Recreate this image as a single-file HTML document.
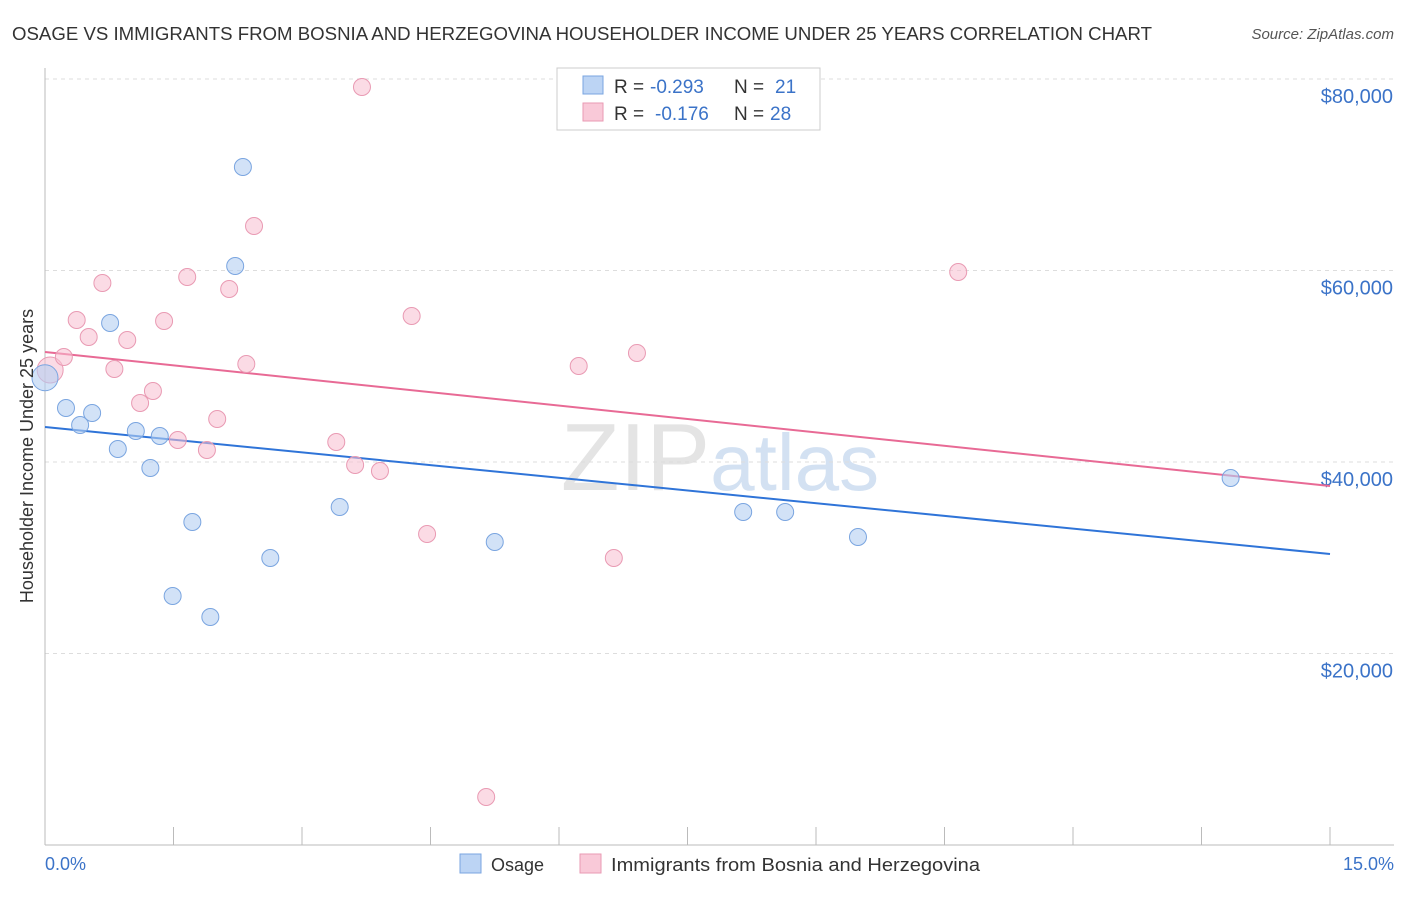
<!DOCTYPE html>
<html><head><meta charset="utf-8"><style>
body{margin:0;background:#fff;font-family:"Liberation Sans",sans-serif}
svg text{font-family:"Liberation Sans",sans-serif}
</style></head><body>
<svg id="chart" width="1406" height="892">
<text x="12" y="40" font-size="18" fill="#333" textLength="1140" lengthAdjust="spacingAndGlyphs">OSAGE VS IMMIGRANTS FROM BOSNIA AND HERZEGOVINA HOUSEHOLDER INCOME UNDER 25 YEARS CORRELATION CHART</text>
<text x="1394" y="39" font-size="15" fill="#555" text-anchor="end" font-style="italic">Source: ZipAtlas.com</text>
<text x="720" y="490" font-size="96" text-anchor="middle" fill="#e4e4e4" font-family="Liberation Serif">ZIP<tspan fill="#d3e1f2" font-family="Liberation Sans" font-size="80">atlas</tspan></text>
<g id="grid"></g><g id="axes"></g><g id="lines"></g><g id="pts"></g>
<text transform="translate(33,456) rotate(-90)" font-size="18" fill="#333" text-anchor="middle">Householder Income Under 25 years</text>
<text x="45" y="870" font-size="18" fill="#3b73c8">0.0%</text>
<text x="1394" y="870" font-size="18" fill="#3b73c8" text-anchor="end">15.0%</text>
<g>
<rect x="557" y="68" width="263" height="62" fill="#fff" stroke="#ccc"/>
<rect x="583" y="76" width="20" height="18" fill="#bcd4f4" stroke="#7aa5e0"/>
<rect x="583" y="103" width="20" height="18" fill="#f9c9d8" stroke="#e99ab3"/>
<text x="614" y="93" font-size="19" fill="#333">R = <tspan x="650" fill="#3b73c8">-0.293</tspan><tspan x="734">N =</tspan><tspan x="775" fill="#3b73c8">21</tspan></text>
<text x="614" y="120" font-size="19" fill="#333">R = <tspan x="655" fill="#3b73c8">-0.176</tspan><tspan x="734">N =</tspan><tspan x="770" fill="#3b73c8">28</tspan></text>
</g>
<g>
<rect x="460" y="854" width="21" height="19" fill="#bcd4f4" stroke="#7aa5e0"/>
<text x="491" y="871" font-size="18" fill="#333">Osage</text>
<rect x="580" y="854" width="21" height="19" fill="#f9c9d8" stroke="#e99ab3"/>
<text x="611" y="871" font-size="18" fill="#333" textLength="369" lengthAdjust="spacingAndGlyphs">Immigrants from Bosnia and Herzegovina</text>
</g>
</svg>
<script>
const yTicks=[20000,40000,60000,80000];
const yTickLabels=["$20,000","$40,000","$60,000","$80,000"];
const blueX=[0.0,0.245,0.41,0.55,0.76,0.85,1.06,1.23,1.34,1.72,1.49,1.93,2.22,2.31,2.63,3.44,5.25,8.15,8.64,9.49,13.84];
const blueY=[48800,45640,43865,45118,54518,41358,43238,39374,42716,33734,26006,23812,60471,70810,29974,35301,31645,34779,34779,32168,38329];
const pinkX=[0.06,0.22,0.37,0.51,0.67,0.81,0.96,1.11,1.26,1.39,1.55,1.66,1.89,2.01,2.15,2.35,2.44,3.40,3.62,3.70,3.91,4.28,4.46,5.15,6.23,6.64,6.91,10.66];
const pinkY=[49609,50967,54831,53056,58695,49713,52742,46162,47416,54727,42298,59322,41254,44491,58069,50236,64648,42089,39687,79166,39061,55249,32481,5013,50027,29974,51384,59844];
const blueTrend=[43656,30392];
const pinkTrend=[51489,37494];
const NS="http://www.w3.org/2000/svg";
const X=v=>45+v/15*1285, Y=v=>845-v/20000*191.5;
function mk(tag,attrs,parent){const e=document.createElementNS(NS,tag);for(const k in attrs)e.setAttribute(k,attrs[k]);document.getElementById(parent).appendChild(e);return e;}
yTicks.forEach((t,i)=>{
 const l=mk('line',{x1:45,x2:1394,y1:Y(t),y2:Y(t),stroke:'#ddd','stroke-dasharray':'4,4'},'grid');
 
 
 const tx=mk('text',{x:1393,y:Y(t)+24,'font-size':20,fill:'#3b73c8','text-anchor':'end'},'grid');
 tx.textContent=yTickLabels[i];
 
 
});
mk('line',{x1:45,x2:1394,y1:845,y2:845,stroke:'#bbb'},'axes');
mk('line',{x1:45,x2:45,y1:68,y2:845,stroke:'#bbb'},'axes');
for(let i=0;i<=10;i++){const t=mk('line',{x1:X(i*1.5),x2:X(i*1.5),y1:827,y2:845,stroke:'#bbb'},'axes');
 
 }
const bl=mk('line',{x1:X(0),y1:Y(blueTrend[0]),x2:X(15),y2:Y(blueTrend[1]),stroke:'#2f74d8','stroke-width':2},'lines');


const pl=mk('line',{x1:X(0),y1:Y(pinkTrend[0]),x2:X(15),y2:Y(pinkTrend[1]),stroke:'#e86a95','stroke-width':2},'lines');


pinkX.forEach((x,i)=>{const c=mk('circle',{cx:X(x),cy:Y(pinkY[i]),r:i==0?13:8.5,fill:'rgba(248,190,208,0.55)',stroke:'#e99ab3','stroke-width':1},'pts');
 
 });
blueX.forEach((x,i)=>{const c=mk('circle',{cx:X(x),cy:Y(blueY[i]),r:i==0?13:8.5,fill:'rgba(180,206,242,0.6)',stroke:'#7aa5e0','stroke-width':1},'pts');
 
 });
</script>
</body></html>
